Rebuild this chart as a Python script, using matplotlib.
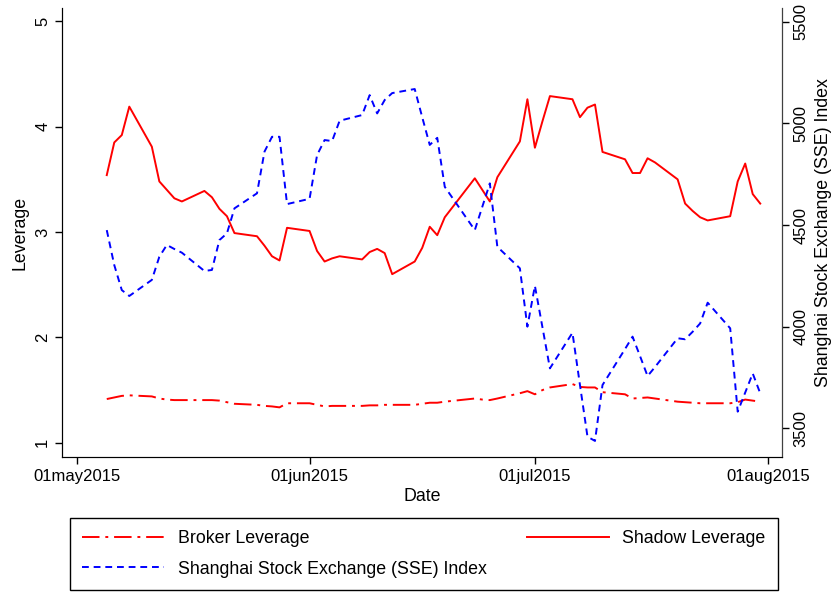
import numpy as np
import pandas as pd
import matplotlib
matplotlib.use("Agg")
import matplotlib.pyplot as plt
import matplotlib.dates as mdates

plt.rcParams['font.family'] = ['Liberation Sans', 'DejaVu Sans']
plt.rcParams['font.size'] = 12

# trading days shown in the chart (May 5 - Jul 31 2015, Jun 22 closed)
dates = pd.to_datetime([
    "2015-05-05", "2015-05-06", "2015-05-07", "2015-05-08",
    "2015-05-11", "2015-05-12", "2015-05-13", "2015-05-14", "2015-05-15",
    "2015-05-18", "2015-05-19", "2015-05-20", "2015-05-21", "2015-05-22",
    "2015-05-25", "2015-05-26", "2015-05-27", "2015-05-28", "2015-05-29",
    "2015-06-01", "2015-06-02", "2015-06-03", "2015-06-04", "2015-06-05",
    "2015-06-08", "2015-06-09", "2015-06-10", "2015-06-11", "2015-06-12",
    "2015-06-15", "2015-06-16", "2015-06-17", "2015-06-18", "2015-06-19",
    "2015-06-23", "2015-06-24", "2015-06-25", "2015-06-26",
    "2015-06-29", "2015-06-30", "2015-07-01", "2015-07-02", "2015-07-03",
    "2015-07-06", "2015-07-07", "2015-07-08", "2015-07-09", "2015-07-10",
    "2015-07-13", "2015-07-14", "2015-07-15", "2015-07-16", "2015-07-17",
    "2015-07-20", "2015-07-21", "2015-07-22", "2015-07-23", "2015-07-24",
    "2015-07-27", "2015-07-28", "2015-07-29", "2015-07-30", "2015-07-31",
])

shadow = [
    3.54, 3.85, 3.92, 4.19,
    3.81, 3.48, 3.40, 3.32, 3.29,
    3.39, 3.33, 3.22, 3.15, 2.99,
    2.96, 2.87, 2.77, 2.73, 3.04,
    3.01, 2.82, 2.72, 2.75, 2.77,
    2.74, 2.81, 2.84, 2.80, 2.60,
    2.72, 2.85, 3.05, 2.97, 3.14,
    3.51, 3.40, 3.29, 3.52,
    3.86, 4.26, 3.80, 4.05, 4.29,
    4.26, 4.09, 4.18, 4.21, 3.76,
    3.69, 3.56, 3.56, 3.70, 3.66,
    3.50, 3.27, 3.20, 3.14, 3.11,
    3.15, 3.48, 3.65, 3.36, 3.27,
]

broker = [
    1.415, 1.43, 1.445, 1.45,
    1.44, 1.42, 1.41, 1.405, 1.405,
    1.405, 1.405, 1.40, 1.385, 1.37,
    1.36, 1.35, 1.345, 1.336, 1.375,
    1.375, 1.36, 1.345, 1.35, 1.35,
    1.35, 1.355, 1.355, 1.36, 1.36,
    1.36, 1.37, 1.38, 1.38, 1.39,
    1.42, 1.41, 1.405, 1.42,
    1.47, 1.49, 1.46, 1.50, 1.525,
    1.557, 1.53, 1.525, 1.525, 1.48,
    1.46, 1.42, 1.425, 1.43, 1.42,
    1.39, 1.385, 1.38, 1.375, 1.375,
    1.375, 1.385, 1.41, 1.40, 1.39,
]

sse = [
    4475, 4303, 4180, 4151,
    4230, 4344, 4402, 4382, 4364,
    4274, 4279, 4426, 4459, 4582,
    4656, 4861, 4934, 4934, 4603,
    4629, 4844, 4918, 4913, 5013,
    5041, 5139, 5049, 5115, 5149,
    5169, 5030, 4894, 4929, 4688,
    4475, 4590, 4705, 4393,
    4287, 4000, 4201, 3998, 3795,
    3970, 3713, 3459, 3438, 3713,
    3890, 3951, 3855, 3757, 3802,
    3943, 3938, 3975, 4016, 4118,
    3992, 3582, 3676, 3770, 3672,
]

xticks = pd.to_datetime(["2015-05-01", "2015-06-01", "2015-07-01", "2015-08-01"])
xticklabels = ["01may2015", "01jun2015", "01jul2015", "01aug2015"]

fig = plt.figure(figsize=(8.31, 5.94), dpi=100)
ax = fig.add_axes([0.0746, 0.231, 0.9407 - 0.0746, 0.986 - 0.231])
ax2 = ax.twinx()

l_broker, = ax.plot(dates, broker, color='red', lw=1.4,
                    dashes=(9, 3, 1.5, 3))
l_shadow, = ax.plot(dates, shadow, color='red', lw=1.4)
l_sse, = ax2.plot(dates, sse, color='blue', lw=1.4, dashes=(3.5, 2.5))

ax.set_ylim(0.867, 5.123)
ax2.set_ylim(3360, 5566)
ax.set_xlim(pd.Timestamp("2015-05-01") - pd.Timedelta(days=1.96),
            pd.Timestamp("2015-08-01") + pd.Timedelta(days=1.86))

ax.set_xticks(xticks)
ax.set_xticklabels(xticklabels)
ax.set_yticks([1, 2, 3, 4, 5])
ax2.set_yticks([3500, 4000, 4500, 5000, 5500])
for lab in ax.get_yticklabels():
    lab.set_rotation(90)
    lab.set_va('center')
for lab in ax2.get_yticklabels():
    lab.set_rotation(90)
    lab.set_va('center')

for a in (ax, ax2):
    a.spines['top'].set_visible(False)
    a.tick_params(direction='out', length=5, width=1)
ax.spines['left'].set_color('black')
ax.spines['bottom'].set_color('#404040')
ax2.spines['right'].set_color('#404040')

ax.set_xlabel("Date", labelpad=3, fontsize=12.8)
ax.set_ylabel("Leverage", labelpad=5, fontsize=12.8)
ax2.set_ylabel("Shanghai Stock Exchange (SSE) Index", labelpad=5, fontsize=12.8)

fig.legend([l_broker, l_sse, l_shadow],
           ["Broker Leverage", "Shanghai Stock Exchange (SSE) Index", "Shadow Leverage"],
           ncol=2, loc='lower left', mode='expand',
           bbox_to_anchor=(70 / 831, 4 / 594, 708 / 831, 73 / 594),
           borderaxespad=0, handlelength=4.6, handletextpad=0.75,
           fancybox=False, edgecolor='black', fontsize=12.8,
           framealpha=1, borderpad=0.7, labelspacing=0.75)

fig.savefig("out.png", dpi=100)
